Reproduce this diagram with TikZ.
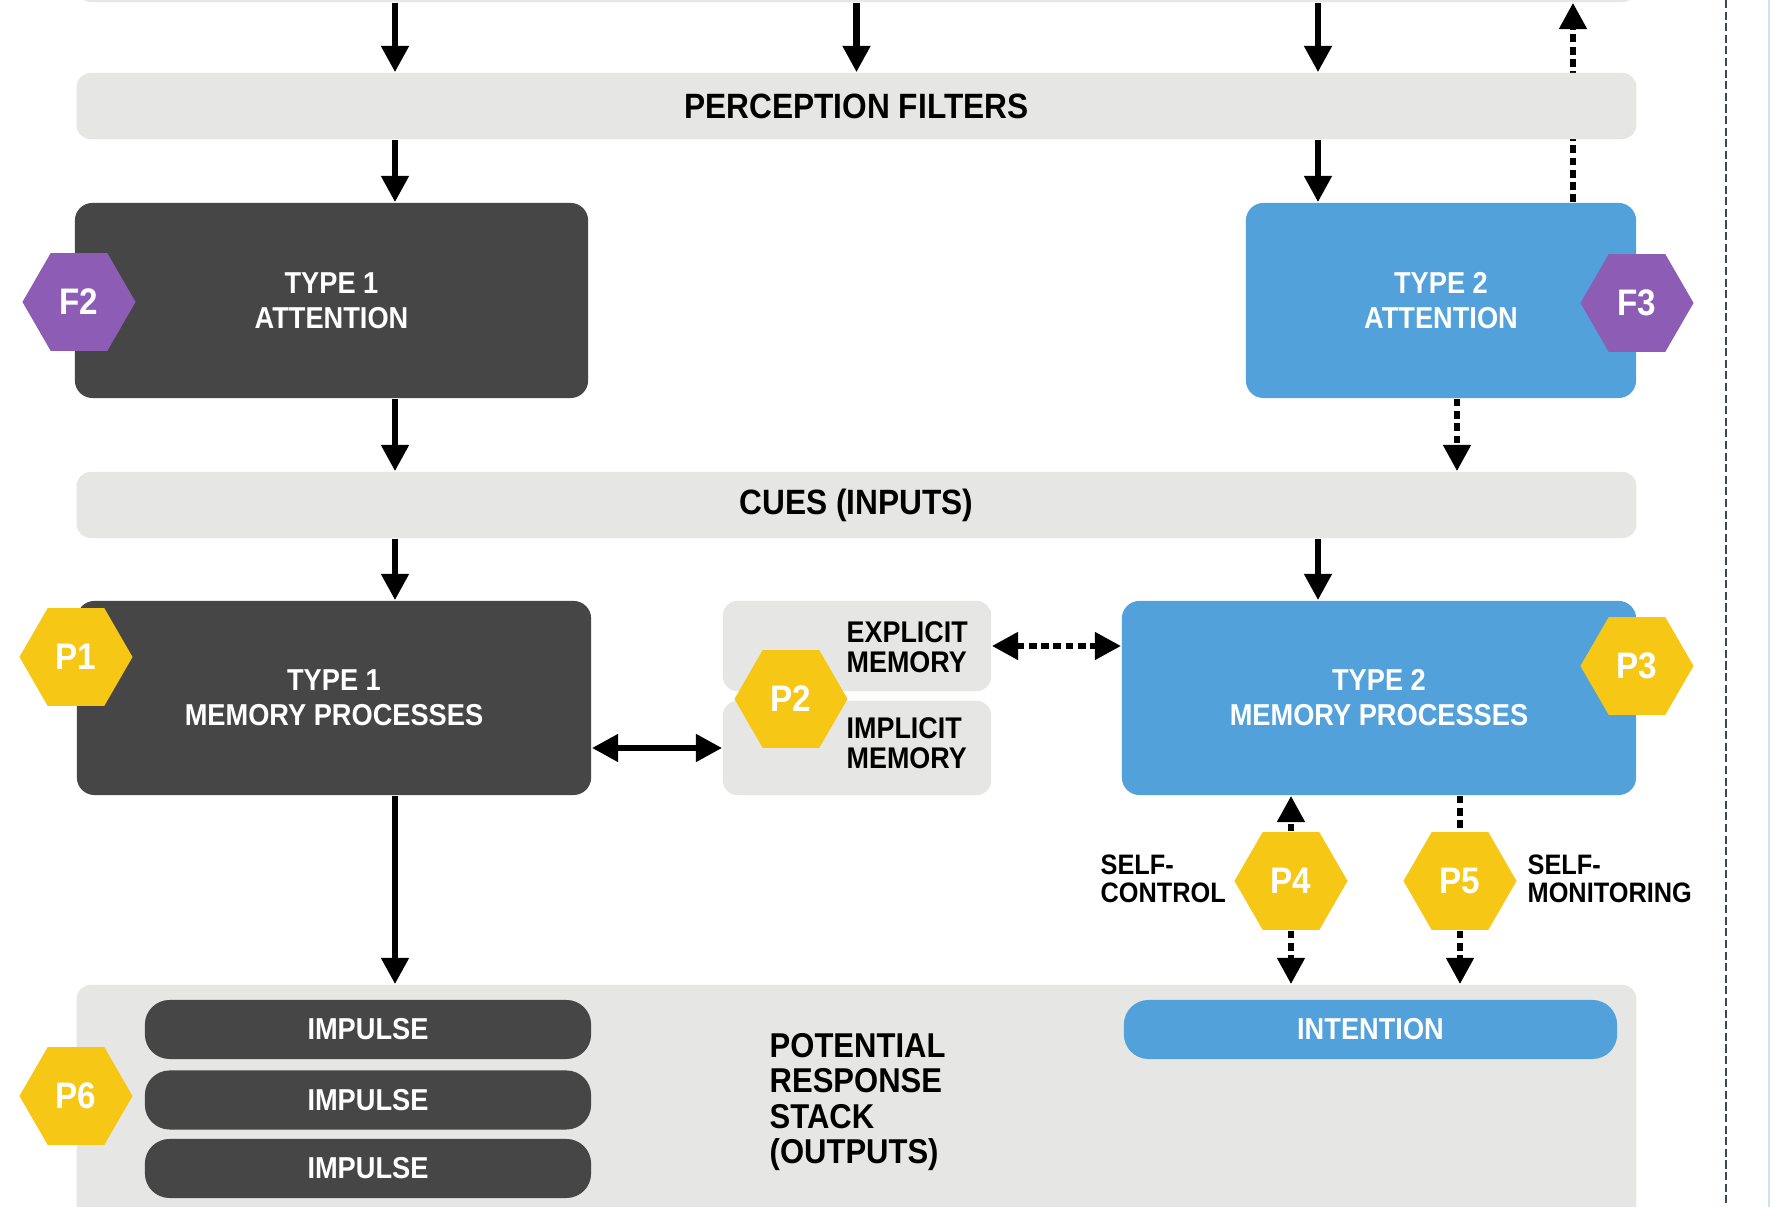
\documentclass[tikz,border=0pt]{standalone}
\usepackage{fontspec}
\setmainfont{Liberation Sans}[FakeStretch=0.9]
\usetikzlibrary{shapes.geometric, arrows.meta, backgrounds}

\definecolor{boxdark}{RGB}{70,70,70}
\definecolor{boxblue}{RGB}{82,161,219}
\definecolor{barlight}{RGB}{230,230,228}
\definecolor{hexpurple}{RGB}{141,93,181}
\definecolor{hexyellow}{RGB}{246,199,20}
\definecolor{sepblue}{RGB}{60,72,88}
\definecolor{edgeblue}{RGB}{205,228,242}

\begin{document}
\begin{tikzpicture}[
    x=0.01cm, y=-0.01cm,
    bar/.style={fill=barlight, rounded corners=4pt, minimum width=15.59cm, minimum height=0.66cm, inner sep=0pt, font=\fontsize{10}{10}\selectfont\bfseries},
    darkbox/.style={fill=boxdark, text=white, rounded corners=5pt, align=center, inner sep=0pt, font=\fontsize{8.6}{10}\selectfont\bfseries},
    bluebox/.style={darkbox, fill=boxblue},
    memhalf/.style={fill=barlight, rounded corners=4pt, minimum width=2.68cm, inner sep=0pt},
    hex/.style={regular polygon, regular polygon sides=6, minimum size=1.13cm, inner sep=0pt, text=white, font=\fontsize{10.5}{12}\selectfont\bfseries},
    fhex/.style={hex, fill=hexpurple},
    phex/.style={hex, fill=hexyellow},
    memtxt/.style={align=left, inner sep=0pt, anchor=west, font=\fontsize{8.5}{8.5}\selectfont\bfseries},
    sidetxt/.style={align=left, inner sep=0pt, anchor=west, font=\fontsize{8}{8}\selectfont\bfseries},
    arr/.style={-{Triangle[length=7.5pt, width=7.5pt]}, line width=1.9pt},
    dblarr/.style={{Triangle[length=7.5pt, width=7.5pt]}-{Triangle[length=7.5pt, width=7.5pt]}, line width=1.9pt},
    dotline/.style={line width=1.9pt, dash pattern=on 2.2pt off 1.3pt},
  ]

    %% ═══════════════════════════════════════════════
    %% LAYOUT: units are pixels of the 1771 x 1207 frame
    %%   bars:   x = 77 … 1636
    %%   col A:  x = 395   (type 1 path)
    %%   col C:  x = 1318  (type 2 path)
    %% ═══════════════════════════════════════════════
    \useasboundingbox (0,0) rectangle (1771,1207);

    \coordinate (colA) at (395,0);
    \coordinate (colC) at (1318,0);
    \coordinate (colD) at (1573,0);
    \coordinate (colE) at (1457,0);

    %% ── bars ──
    \node[bar] (filterin) at (856.5,-31) {};
    \node[bar] (percept)  at (856.5,106) {PERCEPTION FILTERS};
    \node[bar] (cues)     at (856.5,505) {CUES (INPUTS)};

    %% ── attention ──
    \node[darkbox, minimum width=5.13cm, minimum height=1.95cm] (t1att) at (331.5,300.5) {TYPE 1\\ATTENTION};
    \node[bluebox, minimum width=3.90cm, minimum height=1.95cm] (t2att) at (1441,300.5) {TYPE 2\\ATTENTION};

    %% ── memory ──
    \node[darkbox, minimum width=5.14cm, minimum height=1.94cm] (t1mem) at (334,698) {TYPE 1\\MEMORY PROCESSES};
    \node[bluebox, minimum width=5.14cm, minimum height=1.94cm] (t2mem) at (1379,698) {TYPE 2\\MEMORY PROCESSES};
    \node[memhalf, minimum height=0.90cm] (explicit) at (857,646) {};
    \node[memhalf, minimum height=0.94cm] (implicit) at (857,748) {};
    \node[memtxt] (explbl) at (846,647) {EXPLICIT\\MEMORY};
    \node[memtxt] (implbl) at (846,743) {IMPLICIT\\MEMORY};

    %% ── response stack (runs off the bottom edge) ──
    \node[fill=barlight, rounded corners=4pt, minimum width=15.59cm, minimum height=2.65cm, inner sep=0pt] (stack) at (856.5,1117.5) {};
    \node[darkbox, rounded corners=7pt, minimum width=4.46cm, minimum height=0.59cm] (imp1) at (368,1029.5) {IMPULSE};
    \node[darkbox, rounded corners=7pt, minimum width=4.46cm, minimum height=0.59cm] (imp2) at (368,1100) {IMPULSE};
    \node[darkbox, rounded corners=7pt, minimum width=4.46cm, minimum height=0.59cm] (imp3) at (368,1168.5) {IMPULSE};
    \node[bluebox, rounded corners=7pt, minimum width=4.93cm, minimum height=0.59cm] (intent) at (1370.5,1029.5) {INTENTION};
    \node[align=left, inner sep=0pt, anchor=west, font=\fontsize{9.8}{10}\selectfont\bfseries] (stacklbl) at (769,1102) {POTENTIAL\\RESPONSE\\STACK\\(OUTPUTS)};

    %% ── hexagons ──
    \node[fhex] (f2) at (79,302)  {F2};
    \node[fhex] (f3) at (1637,303) {F3};
    \node[phex] (p1) at (76,657)  {P1};
    \node[phex] (p2) at (791,699) {P2};
    \node[phex] (p3) at (1637,666) {P3};
    \node[phex] (p4) at (1291,881) {P4};
    \node[phex] (p5) at (1460,881) {P5};
    \node[phex] (p6) at (76,1096) {P6};
    \node[sidetxt] (ctrl) at (1100,879) {SELF-\\CONTROL};
    \node[sidetxt] (mon)  at (1527,879) {SELF-\\MONITORING};

    %% ═══════ ARROWS ═══════

    %% into perception filters
    \draw[arr] (filterin.south -| colA) -- (percept.north -| colA);
    \draw[arr] (filterin.south) -- (percept.north);
    \draw[arr] (filterin.south -| colC) -- (percept.north -| colC);

    %% perception -> attention
    \draw[arr] (percept.south -| colA) -- (t1att.north -| colA);
    \draw[arr] (percept.south -| colC) -- (t2att.north -| colC);

    %% type 2 attention back up (passes behind the bar)
    \begin{scope}[on background layer]
      \fill[white] (0,0) rectangle (1771,1207);
      \draw[arr, dotline] (t2att.north -| colD) -- (filterin.south -| colD);
    \end{scope}

    %% attention -> cues
    \draw[arr] (t1att.south -| colA) -- (cues.north -| colA);
    \draw[arr, dotline] (t2att.south -| colE) -- (cues.north -| colE);

    %% cues -> memory
    \draw[arr] (cues.south -| colA) -- (t1mem.north -| colA);
    \draw[arr] (cues.south -| colC) -- (t2mem.north -| colC);

    %% memory links
    \draw[dblarr] (t1mem.east |- implicit.west) -- (implicit.west);
    \draw[dblarr, dotline] (explicit.east) -- (t2mem.west |- explicit.east);

    %% memory -> response stack
    \draw[arr] (t1mem.south -| colA) -- (stack.north -| colA);
    \draw[arr, dotline] (p4.north) -- (t2mem.south -| p4.north);
    \draw[arr, dotline] (p4.south) -- (stack.north -| p4.south);
    \draw[dotline] (t2mem.south -| p5.north) -- (p5.north);
    \draw[arr, dotline] (p5.south) -- (stack.north -| p5.south);

    %% ── right margin ──
    \draw[sepblue, line width=0.8pt, dash pattern=on 2.3pt off 1pt] (1726,0) -- (1726,1207);
    \draw[edgeblue, line width=0.8pt] (1769,0) -- (1769,1207);

  \end{tikzpicture}
\end{document}
